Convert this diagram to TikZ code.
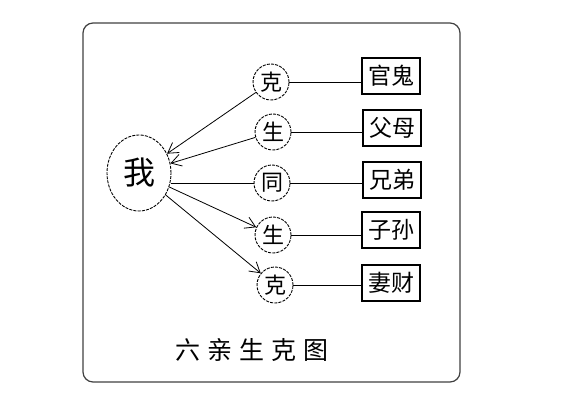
\documentclass[tikz,border=0pt]{standalone}
\usepackage{fontspec}
\newfontfamily\cjk{Noto Sans CJK SC}
\usetikzlibrary{arrows.meta, positioning, shapes.geometric}

\begin{document}
\begin{tikzpicture}[x=1pt, y=-1pt,
    self/.style={draw, ellipse, line width=0.9pt, dash pattern=on 3pt off 1.2pt, minimum width=64pt, minimum height=76pt, inner sep=0pt, font=\cjk\fontsize{32}{32}\selectfont},
    rel/.style={draw, circle, line width=0.9pt, dash pattern=on 3pt off 1.2pt, minimum size=36pt, inner sep=0pt, font=\cjk\fontsize{22}{22}\selectfont},
    kin/.style={draw, line width=1.1pt, minimum width=58pt, minimum height=36pt, inner sep=0pt, font=\cjk\fontsize{23}{23}\selectfont},
    arrow/.style={-{Straight Barb[length=10pt, width=12pt]}, line width=0.8pt},
    link/.style={line width=0.8pt}
]
    \useasboundingbox (0,0) rectangle (580,401);
    % frame
    \draw[line width=1.2pt, black!75, rounded corners=10pt] (83,23) rectangle (460,382);

    % me
    \node[self] (me) at (139,173) {我};

    % relations
    \node[rel] (ke1) at (271,82) {克};
    \node[rel] (sheng1) at (273,132) {生};
    \node[rel] (tong) at (272,183) {同};
    \node[rel] (sheng2) at (273,235) {生};
    \node[rel] (ke2) at (275,285) {克};

    % six kin
    \node[kin] (guangui) at (391,76) {官鬼};
    \node[kin] (fumu) at (392,128) {父母};
    \node[kin] (xiongdi) at (392,180) {兄弟};
    \node[kin] (zisun) at (391,230) {子孙};
    \node[kin] (qicai) at (391,283) {妻财};

    % arrows
    \draw[arrow] (ke1) -- (me);
    \draw[arrow] (sheng1) -- (me);
    \draw[link] (me.east |- tong) -- (tong);
    \draw[arrow] (me) -- (sheng2);
    \draw[arrow] (me) -- (ke2);

    \draw[link] (ke1) -- (ke1 -| guangui.west);
    \draw[link] (sheng1) -- (sheng1 -| fumu.west);
    \draw[link] (tong) -- (tong -| xiongdi.west);
    \draw[link] (sheng2) -- (sheng2 -| zisun.west);
    \draw[link] (ke2) -- (ke2 -| qicai.west);

    % title
    \node[font=\cjk\fontsize{25}{25}\selectfont] (title) at (252,350) {六\hspace{7pt}亲\hspace{7pt}生\hspace{7pt}克\hspace{7pt}图};
\end{tikzpicture}
\end{document}
